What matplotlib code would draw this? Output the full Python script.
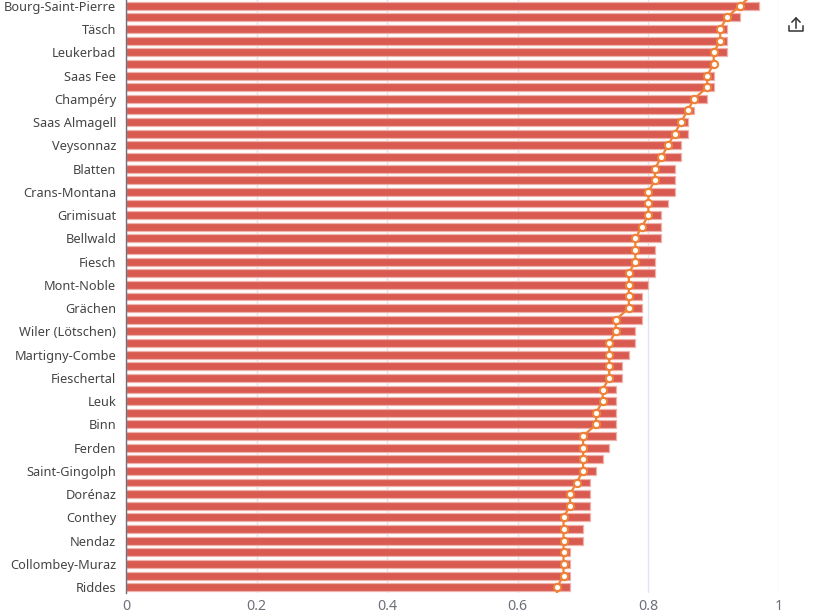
import numpy as np
import matplotlib
matplotlib.use('Agg')
import matplotlib.pyplot as plt
from matplotlib.lines import Line2D

plt.rcParams['font.family'] = ['Noto Sans', 'DejaVu Sans']

# visible category labels (every second bar is labelled)
labels = ['Bourg-Saint-Pierre', 'Täsch', 'Leukerbad', 'Saas Fee', 'Champéry',
          'Saas Almagell', 'Veysonnaz', 'Blatten', 'Crans-Montana', 'Grimisuat',
          'Bellwald', 'Fiesch', 'Mont-Noble', 'Grächen', 'Wiler (Lötschen)',
          'Martigny-Combe', 'Fieschertal', 'Leuk', 'Binn', 'Ferden',
          'Saint-Gingolph', 'Dorénaz', 'Conthey', 'Nendaz', 'Collombey-Muraz', 'Riddes']

bar_values = [0.97, 0.94, 0.92, 0.92, 0.92, 0.90, 0.90, 0.90, 0.89, 0.87,
              0.86, 0.86, 0.85, 0.85, 0.84, 0.84, 0.84, 0.83, 0.82, 0.82,
              0.82, 0.81, 0.81, 0.81, 0.80, 0.79, 0.79, 0.79, 0.78, 0.78,
              0.77, 0.76, 0.76, 0.75, 0.75, 0.75, 0.75, 0.75, 0.74, 0.73,
              0.72, 0.71, 0.71, 0.71, 0.71, 0.70, 0.70, 0.68, 0.68, 0.68, 0.68]

line_values = [0.94, 0.92, 0.91, 0.91, 0.90, 0.90, 0.89, 0.89, 0.87, 0.86,
               0.85, 0.84, 0.83, 0.82, 0.81, 0.81, 0.80, 0.80, 0.80, 0.79,
               0.78, 0.78, 0.78, 0.77, 0.77, 0.77, 0.77, 0.75, 0.75, 0.74,
               0.74, 0.74, 0.74, 0.73, 0.73, 0.72, 0.72, 0.70, 0.70, 0.70,
               0.70, 0.69, 0.68, 0.68, 0.67, 0.67, 0.67, 0.67, 0.67, 0.67, 0.66]

# neighbours of the line just outside the visible window
line_before = 0.96
line_after = 0.66

bar_color = '#d95a50'
line_color = '#ef8237'

fig = plt.figure(figsize=(8.19, 6.15), dpi=100)
ax = fig.add_axes([126 / 819, 22 / 615, (779 - 126) / 819, 593 / 615])

n = len(bar_values)
pos = np.arange(n)
ax.barh(pos, bar_values, height=0.68, color=bar_color, edgecolor='#eeb1ab',
        linewidth=0.9, zorder=2)

line_pos = np.concatenate([[-1], pos, [n]])
line_x = [line_before] + line_values + [line_after]
ax.plot(line_x, line_pos, color=line_color, lw=1.6, zorder=3, clip_on=True)
ax.plot(line_values, pos, 'o', ms=5.2, mfc='white', mec=line_color, mew=1.5,
        zorder=4, clip_on=False)

ax.set_ylim(n - 0.5, -0.5)
ax.set_xlim(0, 1)
ax.set_xticks([0, 0.2, 0.4, 0.6, 0.8, 1])
ax.set_xticklabels(['0', '0.2', '0.4', '0.6', '0.8', '1'])
ax.set_yticks(pos[::2])
ax.set_yticklabels(labels)

ax.grid(axis='x', color='#e0e6f1', lw=1, zorder=0)
ax.set_axisbelow(True)
for s in ['top', 'right', 'bottom']:
    ax.spines[s].set_visible(False)
ax.spines['left'].set_color('#6e7079')
ax.spines['left'].set_linewidth(1)
ax.tick_params(axis='y', length=0, pad=7, labelsize=9.2, labelcolor='#444444')
ax.tick_params(axis='x', length=0, pad=4, labelsize=10.2, labelcolor='#6e7079')

# export icon in the top right corner
def px(x, y):
    return (x / 819, 1 - y / 615)

icon = [[(789, 26), (789, 31), (803, 31), (803, 26)],
        [(796, 28), (796, 18)],
        [(792, 22), (796, 18), (800, 22)]]
for seg in icon:
    xs, ys = zip(*[px(*p) for p in seg])
    fig.add_artist(Line2D(xs, ys, color='#333333', lw=1.1, transform=fig.transFigure))

fig.savefig('out.png', dpi=100)
